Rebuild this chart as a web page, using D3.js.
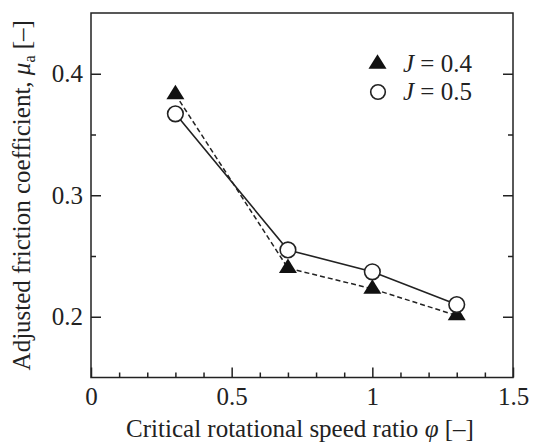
<!DOCTYPE html>
<html>
<head>
<meta charset="utf-8">
<script src="https://cdn.jsdelivr.net/npm/d3@7"></script>
<style>
  html, body { margin: 0; padding: 0; background: #fff; }
  svg text { font-family: "Liberation Serif", "Times New Roman", serif; fill: #222; }
</style>
</head>
<body>
<svg id="chart" width="533" height="446"></svg>
<script>
// ---- data ----
const phi = [0.3, 0.7, 1.0, 1.3];
const muJ04 = [0.383, 0.240, 0.223, 0.201];
const muJ05 = [0.367, 0.255, 0.237, 0.210];
const seriesLabels = ["0.4", "0.5"];
const xTicks = [0, 0.5, 1, 1.5];
const xTickLabels = ["0", "0.5", "1", "1.5"];
const xMinor = [0.1, 0.2, 0.3, 0.4, 0.6, 0.7, 0.8, 0.9, 1.1, 1.2, 1.3, 1.4];
const yTicks = [0.2, 0.3, 0.4];
const yTickLabels = ["0.2", "0.3", "0.4"];
const yMinor = [0.25, 0.35];

// ---- layout ----
const L = 91, R = 513, T = 13, B = 377.5;
const svg = d3.select("#chart");
const x = d3.scaleLinear().domain([0, 1.5]).range([L, R]);
const y = d3.scaleLinear().domain([0.15, 0.45]).range([B, T]);
const ink = "#222";

// axes with inward ticks
const xAxis = d3.axisBottom(x).tickValues(xTicks).tickFormat((d, i) => xTickLabels[i])
  .tickSizeInner(-10).tickSizeOuter(0).tickPadding(10);
svg.append("g").attr("transform", `translate(0,${B})`).call(xAxis);
const xMinorAxis = d3.axisBottom(x).tickValues(xMinor).tickFormat("").tickSizeInner(-5).tickSizeOuter(0);
svg.append("g").attr("transform", `translate(0,${B})`).call(xMinorAxis);

const yAxis = d3.axisLeft(y).tickValues(yTicks).tickFormat((d, i) => yTickLabels[i])
  .tickSizeInner(-10).tickSizeOuter(0).tickPadding(8);
svg.append("g").attr("transform", `translate(${L},0)`).call(yAxis);
svg.append("g").attr("transform", `translate(${L},0)`)
  .call(d3.axisLeft(y).tickValues(yMinor).tickFormat("").tickSizeInner(-5).tickSizeOuter(0));
svg.append("g").attr("transform", `translate(${R},0)`)
  .call(d3.axisRight(y).tickValues(yTicks).tickFormat("").tickSizeInner(-10).tickSizeOuter(0));
svg.append("g").attr("transform", `translate(${R},0)`)
  .call(d3.axisRight(y).tickValues(yMinor).tickFormat("").tickSizeInner(-5).tickSizeOuter(0));

svg.selectAll(".domain").remove();
svg.selectAll(".tick line").attr("stroke", ink).attr("stroke-width", 1.5);
svg.selectAll(".tick text").attr("font-size", 25).attr("fill", ink)
  .style("font-family", '"Liberation Serif", serif');

// frame
svg.append("rect").attr("x", L).attr("y", T).attr("width", R - L).attr("height", B - T)
  .attr("fill", "none").attr("stroke", ink).attr("stroke-width", 1.5);

// lines
const line = d3.line().x(d => x(d[0])).y(d => y(d[1]));
const d04 = phi.map((p, i) => [p, muJ04[i]]);
const d05 = phi.map((p, i) => [p, muJ05[i]]);
svg.append("path").attr("d", line(d04)).attr("fill", "none").attr("stroke", ink)
  .attr("stroke-width", 1.5).attr("stroke-dasharray", "5,3");
svg.append("path").attr("d", line(d05)).attr("fill", "none").attr("stroke", ink)
  .attr("stroke-width", 1.6);

// markers
function triPath(cx, cy) {
  const w = 18, h = 14.5;
  return `M${cx},${cy - h * 2 / 3}L${cx + w / 2},${cy + h / 3}L${cx - w / 2},${cy + h / 3}Z`;
}
svg.append("g").selectAll("path").data(d04).join("path")
  .attr("d", d => triPath(x(d[0]), y(d[1]))).attr("fill", "#111");
svg.append("g").selectAll("circle").data(d05).join("circle")
  .attr("cx", d => x(d[0])).attr("cy", d => y(d[1])).attr("r", 7.8)
  .attr("fill", "#fff").attr("stroke", ink).attr("stroke-width", 1.6);

// legend
const lg = svg.append("g");
lg.append("path").attr("d", triPath(377.5, 64)).attr("fill", "#111");
lg.append("circle").attr("cx", 378).attr("cy", 92).attr("r", 7.3)
  .attr("fill", "#fff").attr("stroke", ink).attr("stroke-width", 1.6);
[[72, seriesLabels[0]], [100, seriesLabels[1]]].forEach(([by, v]) => {
  const t = lg.append("text").attr("x", 403).attr("y", by).attr("font-size", 25);
  t.append("tspan").attr("font-style", "italic").text("J");
  t.append("tspan").text(" = " + v);
});

// axis titles
svg.append("text").attr("x", (L + R) / 2 - 2).attr("y", 437).attr("text-anchor", "middle")
  .attr("font-size", 25)
  .call(t => {
    t.append("tspan").text("Critical rotational speed ratio ");
    t.append("tspan").attr("font-style", "italic").text("φ");
    t.append("tspan").text(" [–]");
  });
svg.append("text").attr("transform", `translate(30,${(T + B) / 2}) rotate(-90)`)
  .attr("text-anchor", "middle").attr("font-size", 25)
  .call(t => {
    t.append("tspan").text("Adjusted friction coefficient, ");
    t.append("tspan").attr("font-style", "italic").text("μ");
    t.append("tspan").attr("font-size", 16).attr("dy", 5).text("a");
    t.append("tspan").attr("dy", -5).text(" [–]");
  });
</script>
</body>
</html>
